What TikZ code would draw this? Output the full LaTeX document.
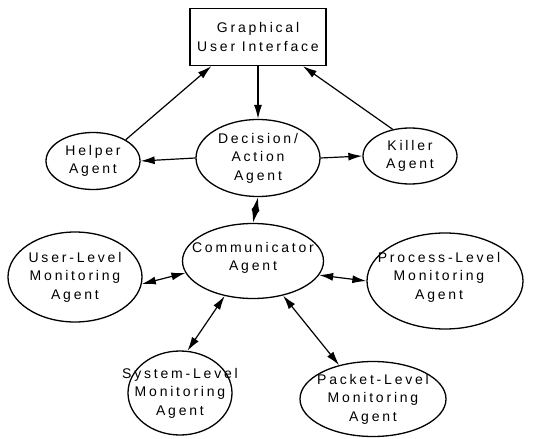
\documentclass[tikz,border=0pt]{standalone}
\usepackage{fontspec}
\setmainfont{Liberation Sans}[LetterSpace=20]
\usetikzlibrary{shapes.geometric,arrows.meta}
\begin{document}
\begin{tikzpicture}[x=1pt,y=-1pt,
  lbl/.style={align=center,font=\fontsize{14}{18.5}\selectfont,inner sep=0pt},
  agent/.style={ellipse,draw,line width=1.3pt,inner sep=0pt},
  tip/.style={Latex[length=14pt,width=8pt]},
  arr/.style={-{Latex[length=14pt,width=8pt]},line width=1.2pt},
  darr/.style={{Latex[length=14pt,width=8pt]}-{Latex[length=14pt,width=8pt]},line width=1.2pt}
]
\useasboundingbox (0,0) rectangle (534,438);

\node[draw,line width=1.3pt,minimum width=136pt,minimum height=57pt,lbl] (gui) at (258,37) {Graphical\\User Interface};

\node[agent,minimum width=124pt,minimum height=77pt,label={[lbl]center:Decision/\\Action\\Agent}] (dec) at (258,158) {};
\node[agent,minimum width=94pt,minimum height=57pt,label={[lbl]center:Helper\\Agent}] (helper) at (93,161) {};
\node[agent,minimum width=94pt,minimum height=56pt,label={[lbl]center:Killer\\Agent}] (killer) at (410,156) {};
\node[agent,minimum width=141pt,minimum height=75pt,label={[lbl,yshift=3pt]center:Communicator\\Agent}] (comm) at (253,261) {};
\node[agent,minimum width=134pt,minimum height=90pt,label={[lbl]center:User-Level\\Monitoring\\Agent}] (user) at (75,277) {};
\node[agent,minimum width=156pt,minimum height=96pt,label={[lbl,xshift=-6pt,yshift=4pt]center:Process-Level\\Monitoring\\Agent}] (proc) at (445,281) {};
\node[agent,minimum width=104pt,minimum height=84pt,label={[lbl]center:System-Level\\Monitoring\\Agent}] (sys) at (180,393) {};
\node[agent,minimum width=146pt,minimum height=75pt,label={[lbl]center:Packet-Level\\Monitoring\\Agent}] (pkt) at (373,399) {};

\draw[arr] (gui.south) -- (dec.north);
\draw[arr] (helper.33) -- (gui.212);
\draw[arr] (killer.123) -- (gui.-33);
\draw[arr] (dec.west) -- (helper.east);
\draw[arr] (dec.east) -- (killer.west);
\draw[darr] (dec.south) -- (comm.north);
\draw[darr] (user.-6) -- (comm.190);
\draw[darr] (comm.-12) -- (proc.west);
\draw[darr] (comm.-129) -- (sys.80);
\draw[darr] (comm.-49) -- (pkt.135);
\end{tikzpicture}
\end{document}
